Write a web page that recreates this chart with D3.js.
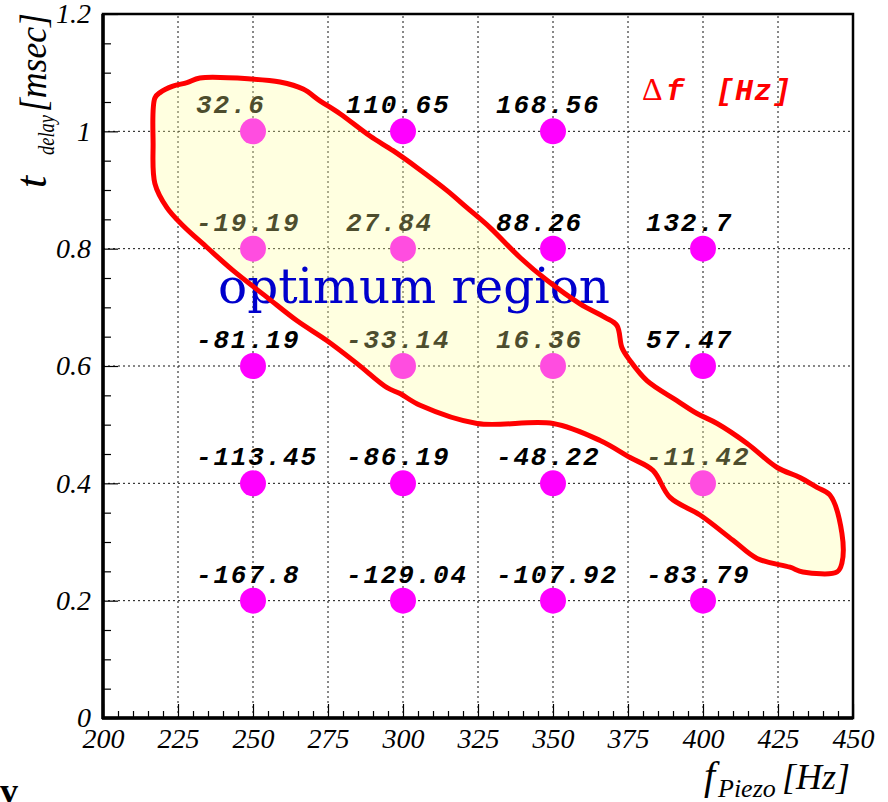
<!DOCTYPE html>
<html>
<head>
<meta charset="utf-8">
<script src="https://d3js.org/d3.v7.min.js"></script>
<style>
  html, body { margin: 0; padding: 0; background: #fff; }
  svg { display: block; }
</style>
</head>
<body>
<svg width="888" height="802"></svg>
<script>
var svg = d3.select("svg"),
    width = +svg.attr("width"),
    height = +svg.attr("height");

// piezo frequencies (columns) and delays (rows)
var freqs = [250, 300, 350, 400];
var delays = [1.0, 0.8, 0.6, 0.4, 0.2];
// measured delta f [Hz], one row per delay, null = no point
var dfRow10 = [32.6, 110.65, 168.56, null];
var dfRow08 = [-19.19, 27.84, 88.26, 132.7];
var dfRow06 = [-81.19, -33.14, 16.36, 57.47];
var dfRow04 = [-113.45, -86.19, -48.22, -11.42];
var dfRow02 = [-167.8, -129.04, -107.92, -83.79];
var dfRows = [dfRow10, dfRow08, dfRow06, dfRow04, dfRow02];

// outline of the optimum region (f [Hz], t [msec])
var regionF = [217.3, 219.0, 223.3, 228.0, 232.3, 250.0, 259.0, 266.7, 272.3, 279.0,
  289.0, 296.7, 304.7, 314.7, 321.3, 329.0, 339.0, 348.0, 359.0, 367.3,
  371.3, 373.0, 375.7, 381.3, 391.3, 398.0, 404.7, 414.7, 424.7, 432.3,
  438.0, 442.3, 446.3, 446.3, 444.7, 433.3, 429.0, 418.0, 410.0, 399.0,
  389.0, 383.3, 375.7, 365.7, 350.0, 324.7, 305.7, 299.0, 294.7, 284.7,
  274.7, 264.7, 254.7, 243.3, 234.7, 226.7, 221.3, 217.3, 216.7];
var regionT = [1.057, 1.066, 1.077, 1.083, 1.091, 1.089, 1.084, 1.072, 1.052, 1.030,
  0.992, 0.967, 0.938, 0.899, 0.870, 0.836, 0.785, 0.746, 0.706, 0.683,
  0.669, 0.631, 0.609, 0.575, 0.541, 0.519, 0.502, 0.468, 0.427, 0.410,
  0.393, 0.380, 0.315, 0.264, 0.249, 0.249, 0.257, 0.272, 0.303, 0.346,
  0.376, 0.422, 0.444, 0.473, 0.502, 0.502, 0.533, 0.553, 0.563, 0.604,
  0.643, 0.677, 0.717, 0.763, 0.802, 0.839, 0.870, 0.911, 0.979];

var xMajor = d3.range(200, 451, 25);
var xMinor = d3.range(200, 451, 5).filter(function(v) { return v % 25 !== 0; });
var yMajor = [0, 0.2, 0.4, 0.6, 0.8, 1, 1.2];
var yMinor = d3.range(0, 1.2001, 0.05).filter(function(v) { return Math.abs(v * 5 - Math.round(v * 5)) > 1e-6; });

var x = d3.scaleLinear().domain([200, 450]).range([103, 853]);
var y = d3.scaleLinear().domain([0, 1.2]).range([718, 14]);

var serif = "Liberation Serif, Times New Roman, serif";
var mono = "Liberation Mono, Courier New, monospace";

// grid
var grid = svg.append("g").attr("class", "grid");
grid.selectAll(".gx")
    .data(xMajor.filter(function(v) { return v > 200 && v < 450; }))
    .enter().append("line")
    .attr("x1", function(d) { return x(d); })
    .attr("x2", function(d) { return x(d); })
    .attr("y1", y(0)).attr("y2", y(1.2))
    .attr("stroke", "#111").attr("stroke-width", 1)
    .attr("stroke-dasharray", "2,3");
grid.selectAll(".gy")
    .data(yMajor.filter(function(v) { return v > 0 && v < 1.2; }))
    .enter().append("line")
    .attr("y1", function(d) { return y(d); })
    .attr("y2", function(d) { return y(d); })
    .attr("x1", x(200)).attr("x2", x(450))
    .attr("stroke", "#111").attr("stroke-width", 1)
    .attr("stroke-dasharray", "2,3");

// points + labels
var cells = [];
dfRows.forEach(function(row, i) {
    row.forEach(function(v, j) {
        if (v !== null) cells.push({ f: freqs[j], t: delays[i], df: v });
    });
});

svg.append("g").selectAll("circle")
    .data(cells)
    .enter().append("circle")
    .attr("cx", function(d) { return x(d.f); })
    .attr("cy", function(d) { return y(d.t); })
    .attr("r", 13)
    .attr("fill", "#ff00ff");

svg.append("g").selectAll("text")
    .data(cells)
    .enter().append("text")
    .attr("x", function(d) { return x(d.f) - 57; })
    .attr("y", function(d) { return y(d.t) - 18; })
    .attr("font-family", mono)
    .attr("font-weight", "bold")
    .attr("font-style", "italic")
    .attr("font-size", 26)
    .attr("letter-spacing", "1.8px")
    .attr("fill", "#000")
    .text(function(d) { return String(d.df); });

// optimum region
var region = regionF.map(function(f, i) { return [f, regionT[i]]; });
var regionLine = d3.line()
    .x(function(d) { return x(d[0]); })
    .y(function(d) { return y(d[1]); })
    .curve(d3.curveCatmullRomClosed.alpha(0.5));

svg.append("path")
    .attr("d", regionLine(region))
    .attr("fill", "#ffff99")
    .attr("fill-opacity", 0.3)
    .attr("stroke", "none");

svg.append("text")
    .attr("x", 218)
    .attr("y", 303)
    .attr("font-family", "DejaVu Serif, serif")
    .attr("font-size", 48)
    .attr("textLength", 392)
    .attr("lengthAdjust", "spacingAndGlyphs")
    .attr("fill", "#0000cc")
    .text("optimum region");

svg.append("path")
    .attr("d", regionLine(region))
    .attr("fill", "none")
    .attr("stroke", "#ff0000")
    .attr("stroke-width", 5)
    .attr("stroke-linejoin", "round");

// delta f legend
var lg = svg.append("text").attr("y", 100).attr("fill", "#ff0000").attr("font-size", 30);
lg.append("tspan").attr("x", 642).attr("font-family", serif).attr("font-size", 32).text("\u0394");
lg.append("tspan").attr("x", 666).attr("font-family", mono).attr("font-weight", "bold")
    .attr("font-style", "italic").text("f");
lg.append("tspan").attr("x", 716).attr("font-family", mono).attr("font-weight", "bold")
    .attr("font-style", "italic").attr("letter-spacing", "1px").text("[Hz]");

// axes
var xAxis = svg.append("g")
    .attr("transform", "translate(0," + y(0) + ")")
    .call(d3.axisBottom(x).tickValues(xMajor).tickSize(-14).tickPadding(10)
        .tickFormat(d3.format("d")));
var xAxisMinor = svg.append("g")
    .attr("transform", "translate(0," + y(0) + ")")
    .call(d3.axisBottom(x).tickValues(xMinor).tickSize(-7).tickFormat(""));
var yAxis = svg.append("g")
    .attr("transform", "translate(" + x(200) + ",0)")
    .call(d3.axisLeft(y).tickValues(yMajor).tickSize(-15).tickPadding(12)
        .tickFormat(function(d) { return d3.format("~g")(d); }));
var yAxisMinor = svg.append("g")
    .attr("transform", "translate(" + x(200) + ",0)")
    .call(d3.axisLeft(y).tickValues(yMinor).tickSize(-8).tickFormat(""));

[xAxis, xAxisMinor, yAxis, yAxisMinor].forEach(function(a) {
    a.attr("font-family", serif).attr("font-size", 28);
    a.select(".domain").remove();
    a.selectAll("line").attr("stroke", "#000").attr("stroke-width", 1.2);
    a.selectAll("text")
        .attr("font-family", serif)
        .attr("font-style", "italic")
        .attr("font-size", 28)
        .attr("fill", "#000");
});

// frame
svg.append("rect")
    .attr("x", x(200)).attr("y", y(1.2))
    .attr("width", x(450) - x(200)).attr("height", y(0) - y(1.2))
    .attr("fill", "none").attr("stroke", "#000").attr("stroke-width", 2.5);
svg.append("line")
    .attr("x1", x(200)).attr("x2", x(200)).attr("y1", y(1.2)).attr("y2", y(0) + 1)
    .attr("stroke", "#000").attr("stroke-width", 3.5);
svg.append("line")
    .attr("x1", x(200) - 1).attr("x2", x(450)).attr("y1", y(0)).attr("y2", y(0))
    .attr("stroke", "#000").attr("stroke-width", 3.5);

// axis titles
var xt = svg.append("text").attr("font-family", serif).attr("font-style", "italic").attr("fill", "#000");
xt.append("tspan").attr("x", 704).attr("y", 789).attr("font-size", 40).text("f");
xt.append("tspan").attr("x", 718).attr("y", 797).attr("font-size", 26).text("Piezo");
xt.append("tspan").attr("x", 782).attr("y", 789).attr("font-size", 36).text("[Hz]");

var yt = svg.append("g").attr("transform", "translate(46,188) rotate(-90)")
    .append("text").attr("font-family", serif).attr("font-style", "italic").attr("fill", "#000");
yt.append("tspan").attr("x", 0).attr("y", 0).attr("font-size", 44).text("t");
yt.append("tspan").attr("x", 33).attr("y", 8).attr("font-size", 24)
    .attr("textLength", 40).attr("lengthAdjust", "spacingAndGlyphs").text("delay");
yt.append("tspan").attr("x", 76).attr("y", 0).attr("font-size", 37)
    .attr("textLength", 99).attr("lengthAdjust", "spacingAndGlyphs").text("[msec]");

// stray glyph at bottom-left
svg.append("text")
    .attr("x", 0).attr("y", 803)
    .attr("font-family", serif).attr("font-weight", "bold")
    .attr("font-size", 36).attr("fill", "#000")
    .text("v");
</script>
</body>
</html>
